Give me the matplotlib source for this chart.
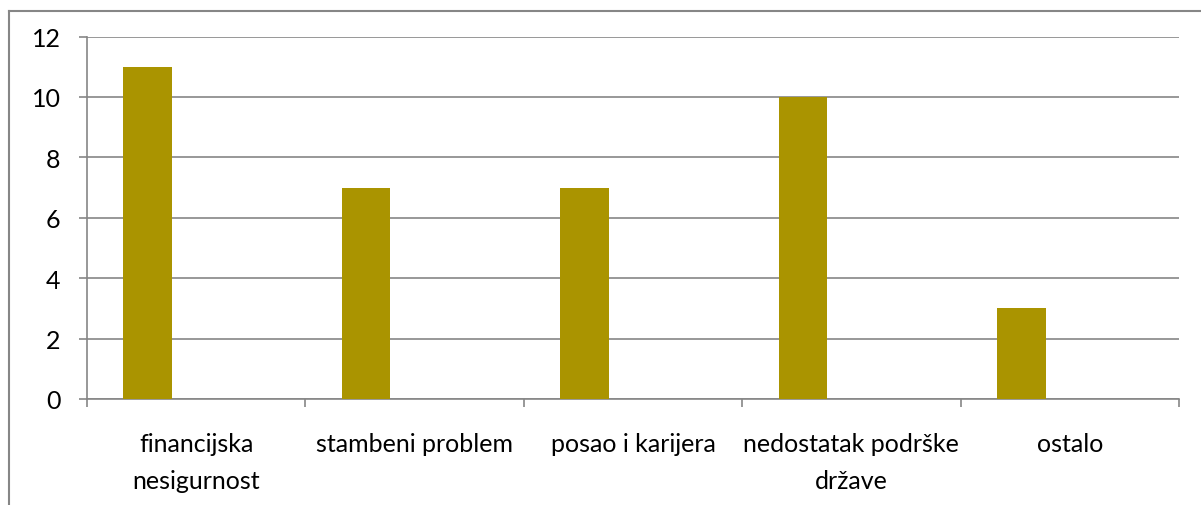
import matplotlib
matplotlib.use("Agg")
import matplotlib.pyplot as plt
from matplotlib.lines import Line2D
import numpy as np

categories = ["financijska\nnesigurnost", "stambeni problem", "posao i karijera",
              "nedostatak podrške\ndržave", "ostalo"]
values = [11, 7, 7, 10, 3]
yticks = [0, 2, 4, 6, 8, 10, 12]

plt.rcParams['font.family'] = ['Lato', 'DejaVu Sans']

W, H = 1201, 506
fig = plt.figure(figsize=(W / 100, H / 100), dpi=100)
ax = fig.add_axes([87 / W, 1 - 400 / H, (1179 - 87) / W, (400 - 37.5) / H])

grey = '#868686'
bw = 1 / 4.5
x = np.arange(len(categories))
ax.bar(x - bw, values, width=bw, color='#AA9400', zorder=3)

ax.set_xlim(-0.5, len(categories) - 0.5)
ax.set_ylim(0, 12)
ax.set_yticks(yticks)
ax.set_yticklabels([str(v) for v in yticks], fontsize=18)
ax.yaxis.grid(True, color=grey, linewidth=1.2, zorder=0)
ax.set_xticks(x)
ax.set_xticklabels(categories, fontsize=18, linespacing=1.72)
ax.set_xticks(np.arange(-0.5, len(categories)), minor=True)
ax.tick_params(axis='x', which='major', length=0, pad=24)
ax.tick_params(axis='x', which='minor', length=6, color=grey, width=1.2, direction='out')
ax.tick_params(axis='y', length=6, color=grey, width=1.2, pad=13, direction='out')
for s in ['top', 'right']:
    ax.spines[s].set_visible(False)
for s in ['left', 'bottom']:
    ax.spines[s].set_color(grey)
    ax.spines[s].set_linewidth(1.2)

fig.add_artist(Line2D([9 / W, 9 / W], [0, 1 - 12 / H], transform=fig.transFigure,
                      color=grey, linewidth=1.5))
fig.add_artist(Line2D([9 / W, 1], [1 - 12 / H, 1 - 12 / H], transform=fig.transFigure,
                      color=grey, linewidth=1.5))

fig.savefig("out.png", dpi=100)
